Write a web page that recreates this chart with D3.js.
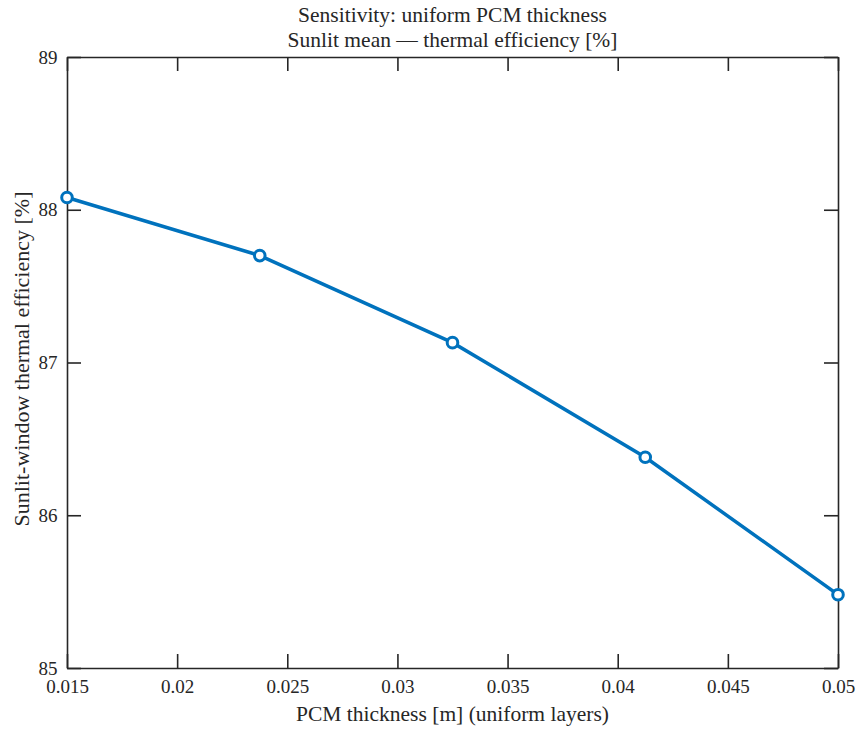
<!DOCTYPE html>
<html>
<head>
<meta charset="utf-8">
<script src="https://cdn.jsdelivr.net/npm/d3@7"></script>
<style>
  body { margin: 0; background: #fff; }
  svg text { font-family: "Liberation Serif", "DejaVu Serif", serif !important; fill: #262626; }
</style>
</head>
<body>
<svg id="chart" width="858" height="732"></svg>
<script>
const thickness = [0.015, 0.02375, 0.0325, 0.04125, 0.05];
const efficiency = [88.08, 87.70, 87.13, 86.38, 85.48];
const xTicks = [0.015, 0.02, 0.025, 0.03, 0.035, 0.04, 0.045, 0.05];
const yTicks = [85, 86, 87, 88, 89];
const titleLines = ['Sensitivity: uniform PCM thickness', 'Sunlit mean \u2014 thermal efficiency [%]'];

const FONT = '"Liberation Serif", serif';
const svg = d3.select('#chart');
const m = {left: 67, right: 20, top: 57, bottom: 64};
const W = 858, H = 732;
const w = W - m.left - m.right, h = H - m.top - m.bottom;

const x = d3.scaleLinear().domain([0.015, 0.05]).range([0, w]);
const y = d3.scaleLinear().domain([85, 89]).range([h, 0]);

const g = svg.append('g').attr('transform', `translate(${m.left},${m.top})`);

// axes, ticks pointing inward like matlab
const fmt = d => String(d);
const tk = -14;
const axBottom = g.append('g').attr('transform', `translate(0,${h})`)
  .call(d3.axisBottom(x).tickValues(xTicks).tickFormat(fmt).tickSizeInner(tk).tickSizeOuter(0).tickPadding(12));
const axTop = g.append('g')
  .call(d3.axisTop(x).tickValues(xTicks).tickFormat('').tickSizeInner(tk).tickSizeOuter(0));
const axLeft = g.append('g')
  .call(d3.axisLeft(y).tickValues(yTicks).tickFormat(fmt).tickSizeInner(tk).tickSizeOuter(0).tickPadding(9.5));
const axRight = g.append('g').attr('transform', `translate(${w},0)`)
  .call(d3.axisRight(y).tickValues(yTicks).tickFormat('').tickSizeInner(tk).tickSizeOuter(0));

[axBottom, axTop, axLeft, axRight].forEach(a => {
  a.attr('font-family', FONT).attr('font-size', 19);
  a.selectAll('path').attr('stroke', '#262626').attr('stroke-width', 1.6);
  a.selectAll('line').attr('stroke', '#262626').attr('stroke-width', 1.6);
  a.selectAll('text').style('font-family', FONT).style('font-size', '19px').attr('fill', '#262626');
});

// line + markers
const line = d3.line().x((d, i) => x(thickness[i])).y(d => y(d));
g.append('path').datum(efficiency)
  .attr('d', line)
  .attr('fill', 'none')
  .attr('stroke', '#0072BD')
  .attr('stroke-width', 3.5);

g.selectAll('.pt').data(efficiency).enter().append('circle')
  .attr('class', 'pt')
  .attr('cx', (d, i) => x(thickness[i]))
  .attr('cy', d => y(d))
  .attr('r', 5.3)
  .attr('fill', '#fff')
  .attr('stroke', '#0072BD')
  .attr('stroke-width', 3);

// titles
svg.selectAll('.title').data(titleLines).enter().append('text')
  .attr('x', m.left + w / 2)
  .attr('y', (d, i) => 22 + i * 25)
  .attr('text-anchor', 'middle')
  .style('font-family', FONT)
  .style('font-size', '21.5px')
  .text(d => d);

svg.append('text')
  .attr('x', m.left + w / 2)
  .attr('y', 721)
  .attr('text-anchor', 'middle')
  .style('font-family', FONT)
  .style('font-size', '21.5px')
  .text('PCM thickness [m] (uniform layers)');

svg.append('text')
  .attr('transform', `translate(29,359) rotate(-90)`)
  .attr('text-anchor', 'middle')
  .style('font-family', FONT)
  .style('font-size', '22px')
  .text('Sunlit-window thermal efficiency [%]');
</script>
</body>
</html>
